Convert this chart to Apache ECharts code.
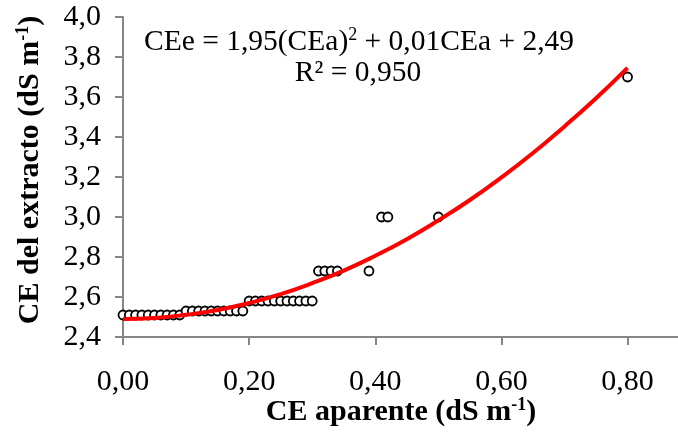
<!DOCTYPE html>
<html>
<head>
<meta charset="utf-8">
<script src="https://cdn.jsdelivr.net/npm/echarts@6/dist/echarts.min.js"></script>
<style>
html,body{margin:0;padding:0;background:#fff;}
#chart{width:678px;height:432px;}
</style>
</head>
<body>
<div id="chart"></div>
<script>
// Observed data: CE aparente (x) vs CE del extracto (y)
const ceAparente = [0.00,0.01,0.02,0.03,0.04,0.05,0.06,0.07,0.08,0.09,
  0.10,0.11,0.12,0.13,0.14,0.15,0.16,0.17,0.18,0.19,
  0.20,0.21,0.22,0.23,0.24,0.25,0.26,0.27,0.28,0.29,0.30,
  0.31,0.32,0.33,0.34,0.39,0.41,0.42,0.50,0.80];
const ceExtracto = [2.51,2.51,2.51,2.51,2.51,2.51,2.51,2.51,2.51,2.51,
  2.53,2.53,2.53,2.53,2.53,2.53,2.53,2.53,2.53,2.53,
  2.58,2.58,2.58,2.58,2.58,2.58,2.58,2.58,2.58,2.58,2.58,
  2.73,2.73,2.73,2.73,2.73,3.00,3.00,3.00,3.70];
// Trend line
const trendX = [0.00,0.05,0.10,0.15,0.20,0.25,0.30,0.35,0.40,0.45,0.50,0.55,0.60,0.65,0.70,0.75,0.80];
const trendY = [2.490,2.495,2.511,2.535,2.570,2.614,2.669,2.732,2.806,2.889,2.983,3.085,3.198,3.320,3.453,3.594,3.746];
// Axis ticks
const xTicks = [0.00,0.20,0.40,0.60,0.80];
const yTicks = [2.4,2.6,2.8,3.0,3.2,3.4,3.6,3.8,4.0];

const FONT = 'Liberation Serif';
const axisGray = '#868686';

const chart = echarts.init(document.getElementById('chart'), null, {renderer:'canvas'});
chart.setOption({
  animation:false,
  backgroundColor:'#ffffff',
  grid:{left:123, top:17, bottom:95, right:0, containLabel:false},
  xAxis:{
    type:'value', min:0, max:0.88,
    splitLine:{show:false},
    axisLine:{show:true, onZero:false, lineStyle:{color:axisGray, width:2}},
    axisTick:{show:true, length:8, customValues:xTicks, lineStyle:{color:axisGray, width:2}},
    axisLabel:{margin:30, fontFamily:FONT, fontSize:30, color:'#000',
      customValues:xTicks,
      formatter:v => v.toFixed(2).replace('.', ',')}
  },
  yAxis:{
    type:'value', min:2.4, max:4.0, interval:0.2,
    splitLine:{show:false},
    axisLine:{show:true, onZero:false, lineStyle:{color:axisGray, width:2}},
    axisTick:{show:true, length:8, lineStyle:{color:axisGray, width:2}},
    axisLabel:{margin:22, fontFamily:FONT, fontSize:30, color:'#000',
      formatter:v => yTicks.some(t=>Math.abs(t-v)<1e-6) ? v.toFixed(1).replace('.', ',') : ''}
  },
  series:[
    {type:'scatter', data:ceAparente.map((x,i)=>[x, ceExtracto[i]]),
      symbol:'circle', symbolSize:9,
      itemStyle:{color:'#ffffff', borderColor:'#000000', borderWidth:1.8, opacity:1}, z:2},
    {type:'line', data:trendX.map((x,i)=>[x, trendY[i]]), smooth:true,
      showSymbol:false, symbol:'none',
      lineStyle:{color:'#ff0000', width:4}, z:3}
  ],
  graphic:[
    {type:'text', x:359, y:42, style:{
      text:'{n|CEe = 1,95(CEa)}{s|2}{n| + 0,01CEa + 2,49}',
      rich:{n:{fontFamily:FONT, fontSize:29.5, fill:'#000'},
            s:{fontFamily:FONT, fontSize:18, fill:'#000', padding:[0,0,14,0]}},
      textAlign:'center', textVerticalAlign:'middle'}},
    {type:'text', x:358, y:73, style:{
      text:'R² = 0,950', fontFamily:FONT, fontSize:29.5, fill:'#000',
      textAlign:'center', textVerticalAlign:'middle'}},
    {type:'text', x:401, y:412, style:{
      text:'{n|CE aparente (dS m}{s|-1}{n|)}',
      rich:{n:{fontFamily:FONT, fontSize:30, fontWeight:'bold', fill:'#000'},
            s:{fontFamily:FONT, fontSize:18, fontWeight:'bold', fill:'#000', padding:[0,0,14,0]}},
      textAlign:'center', textVerticalAlign:'middle'}},
    {type:'text', x:30, y:170, rotation:Math.PI/2, style:{
      text:'{n|CE del extracto (dS m}{s|-1}{n|)}',
      rich:{n:{fontFamily:FONT, fontSize:30, fontWeight:'bold', fill:'#000'},
            s:{fontFamily:FONT, fontSize:18, fontWeight:'bold', fill:'#000', padding:[0,0,14,0]}},
      textAlign:'center', textVerticalAlign:'middle'}}
  ]
});
</script>
</body>
</html>
